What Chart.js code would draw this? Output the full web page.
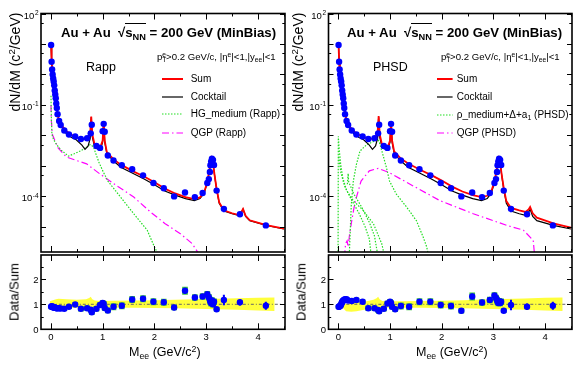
<!DOCTYPE html>
<html>
<head>
<meta charset="utf-8">
<title>Au+Au dielectron mass spectra</title>
<script src="https://cdn.jsdelivr.net/npm/chart.js@4.4.1/dist/chart.umd.min.js"></script>
<style>
  html, body { margin: 0; padding: 0; background: #fff; }
  #fig { position: relative; width: 581px; height: 368px; overflow: hidden;
         font-family: "Liberation Sans", Arial, Helvetica, sans-serif; color: #000; }
  #fig canvas { position: absolute; }
  .t { position: absolute; white-space: nowrap; line-height: 1; }
  .t sub, .t sup { font-size: 70%; line-height: 0; }
  .t sub { vertical-align: -0.35em; }
  .t sup { vertical-align: 0.5em; }
  .rot { transform: translate(-50%, -50%) rotate(-90deg); }
  .ov { border-top: 1px solid #000; padding-top: 1px; }
  .title { font-weight: bold; font-size: 13.2px; }
  .cut { font-size: 9.6px; }
  .model { font-size: 12.5px; }
  .leg { font-size: 10px; }
  svg.s { position: absolute; overflow: visible; }
</style>
</head>
<body>
<div id="fig">
  <canvas id="topRapp" width="290" height="256" style="left:0;top:0"></canvas>
  <canvas id="ratioRapp" width="290" height="118" style="left:0;top:250px"></canvas>
  <canvas id="topPhsd" width="291" height="256" style="left:290px;top:0"></canvas>
  <canvas id="ratioPhsd" width="291" height="118" style="left:290px;top:250px"></canvas>

  <!-- left panel texts -->
  <div class="t title" style="left:61px;top:26.3px">Au + Au &nbsp;√<span class="ov">s<sub>NN</sub></span> = 200 GeV (MinBias)</div>
  <div class="t cut" style="left:157px;top:52px">p<sub>T</sub><sup style="margin-left:-4.1px">e</sup>&gt;0.2 GeV/c, |η<sup>e</sup>|&lt;1,|y<sub>ee</sub>|&lt;1</div>
  <div class="t model" style="left:86px;top:61.4px">Rapp</div>
  <svg class="s" style="left:161.7px;top:79.3px" width="21" height="1"><line x1="0" y1="0" x2="21" y2="0" stroke="#ff0000" stroke-width="2"/></svg>
  <div class="t leg" style="left:190.7px;top:74.4px">Sum</div>
  <svg class="s" style="left:161.7px;top:96.7px" width="21" height="1"><line x1="0" y1="0" x2="21" y2="0" stroke="#000" stroke-width="1.2"/></svg>
  <div class="t leg" style="left:190.7px;top:91.8px">Cocktail</div>
  <svg class="s" style="left:161.7px;top:114.3px" width="21" height="1"><line x1="0" y1="0" x2="21" y2="0" stroke="#22dd22" stroke-width="1.2" stroke-dasharray="1.5 1.5"/></svg>
  <div class="t leg" style="left:190.7px;top:109.4px">HG_medium (Rapp)</div>
  <svg class="s" style="left:161.7px;top:132.7px" width="21" height="1"><line x1="0" y1="0" x2="21" y2="0" stroke="#ff00ff" stroke-width="1.2" stroke-dasharray="7 3 1.5 3"/></svg>
  <div class="t leg" style="left:190.7px;top:127.8px">QGP (Rapp)</div>
  <div class="t rot" style="left:15.3px;top:61.5px;font-size:14px">dN/dM (c<sup>2</sup>/GeV)</div>
  <div class="t rot" style="left:13.8px;top:291.5px;font-size:13px">Data/Sum</div>
  <div class="t" style="left:129px;top:345.6px;font-size:12.5px">M<sub>ee</sub> (GeV/c<sup>2</sup>)</div>

  <!-- right panel texts -->
  <div class="t title" style="left:347px;top:26.3px">Au + Au &nbsp;√<span class="ov">s<sub>NN</sub></span> = 200 GeV (MinBias)</div>
  <div class="t cut" style="left:441px;top:52px">p<sub>T</sub><sup style="margin-left:-4.1px">e</sup>&gt;0.2 GeV/c, |η<sup>e</sup>|&lt;1,|y<sub>ee</sub>|&lt;1</div>
  <div class="t model" style="left:373px;top:61.4px">PHSD</div>
  <svg class="s" style="left:436.7px;top:79.3px" width="16" height="1"><line x1="0" y1="0" x2="15.6" y2="0" stroke="#ff0000" stroke-width="2"/></svg>
  <div class="t leg" style="left:456.7px;top:74.4px">Sum</div>
  <svg class="s" style="left:436.7px;top:96.7px" width="16" height="1"><line x1="0" y1="0" x2="15.6" y2="0" stroke="#000" stroke-width="1.2"/></svg>
  <div class="t leg" style="left:456.7px;top:91.8px">Cocktail</div>
  <svg class="s" style="left:436.7px;top:115px" width="16" height="1"><line x1="0" y1="0" x2="15.6" y2="0" stroke="#22dd22" stroke-width="1.2" stroke-dasharray="1.5 1.5"/></svg>
  <div class="t leg" style="left:456.7px;top:110.1px">ρ_medium+Δ+a<sub>1</sub> (PHSD)</div>
  <svg class="s" style="left:436.7px;top:132.7px" width="16" height="1"><line x1="0" y1="0" x2="15.6" y2="0" stroke="#ff00ff" stroke-width="1.2" stroke-dasharray="7 3 1.5 3"/></svg>
  <div class="t leg" style="left:456.7px;top:127.8px">QGP (PHSD)</div>
  <div class="t rot" style="left:298px;top:61.5px;font-size:14px">dN/dM (c<sup>2</sup>/GeV)</div>
  <div class="t rot" style="left:301px;top:291.5px;font-size:13px">Data/Sum</div>
  <div class="t" style="left:416px;top:345.6px;font-size:12.5px">M<sub>ee</sub> (GeV/c<sup>2</sup>)</div>
</div>

<script>
// ---- measured data points (both panels share the same data) ----
const massPts = [0.005, 0.015, 0.025, 0.035, 0.045, 0.055, 0.065, 0.075, 0.085, 0.095,
  0.105, 0.115, 0.13, 0.16, 0.19, 0.26, 0.35, 0.47, 0.58, 0.70,
  0.77, 0.79, 0.88, 0.95, 1.0, 1.02, 1.04, 1.1, 1.21, 1.37,
  1.57, 1.78, 1.98, 2.18, 2.38, 2.59, 2.78, 2.93, 3.02, 3.05,
  3.07, 3.08, 3.095, 3.11, 3.13, 3.15, 3.2, 3.34, 3.65, 4.15]
const yieldPts = [9.3, 2.6, 1.45, 1.0, 0.74, 0.59, 0.44, 0.30, 0.22, 0.166,
  0.112, 0.079, 0.050, 0.030, 0.022, 0.0145, 0.0107, 0.0093, 0.0076, 0.0081,
  0.0117, 0.0224, 0.0045, 0.0039, 0.0138, 0.024, 0.0132, 0.0022, 0.0015, 0.00105,
  7.8e-4, 4.9e-4, 2.75e-4, 1.86e-4, 1.0e-4, 1.35e-4, 9.5e-5, 1.29e-4, 2.75e-4, 3.7e-4,
  6.3e-4, 1.05e-3, 1.41e-3, 1.74e-3, 1.58e-3, 1.07e-3, 1.55e-4, 3.9e-5, 2.6e-5, 1.12e-5]
const ratioRappPts = [0.9, 0.92, 0.9, 0.88, 0.9, 0.87, 0.87, 0.86, 0.86, 0.85,
  0.85, 0.84, 0.84, 0.84, 0.83, 0.82, 0.9, 0.99, 0.82, 0.84,
  0.78, 0.68, 0.82, 0.97, 1.05, 1.02, 0.85, 0.75, 0.9, 0.94,
  1.19, 1.22, 1.1, 1.08, 0.87, 1.54, 1.27, 1.31, 1.4, 1.28,
  1.17, 1.1, 1.04, 1.15, 1.0, 1.1, 0.8, 1.17, 1.08, 0.94]
const ratioPhsdPts = [0.9, 0.9, 0.92, 0.93, 0.95, 1.0, 1.05, 1.1, 1.12, 1.15,
  1.16, 1.18, 1.2, 1.2, 1.15, 1.13, 1.17, 1.1, 0.84, 0.84,
  0.77, 0.72, 0.82, 1.03, 1.1, 1.05, 0.9, 0.8, 0.93, 0.9,
  1.1, 1.1, 0.97, 0.93, 0.74, 1.31, 1.07, 1.17, 1.35, 1.25,
  1.17, 1.1, 1.05, 1.12, 1.05, 1.1, 0.74, 0.97, 0.9, 0.94]
const statErr = [0.03, 0.03, 0.03, 0.03, 0.03, 0.03, 0.03, 0.03, 0.03, 0.03,
  0.03, 0.03, 0.03, 0.03, 0.03, 0.04, 0.04, 0.04, 0.04, 0.04,
  0.05, 0.05, 0.05, 0.05, 0.05, 0.05, 0.05, 0.05, 0.07, 0.07,
  0.07, 0.07, 0.07, 0.07, 0.1, 0.1, 0.1, 0.07, 0.07, 0.07,
  0.07, 0.07, 0.07, 0.07, 0.07, 0.07, 0.06, 0.2, 0.12, 0.15]
const sysErr = [0.06, 0.06, 0.06, 0.06, 0.06, 0.06, 0.06, 0.06, 0.06, 0.06,
  0.06, 0.06, 0.06, 0.06, 0.06, 0.08, 0.08, 0.08, 0.1, 0.1,
  0.1, 0.1, 0.1, 0.1, 0.1, 0.1, 0.1, 0.1, 0.13, 0.13,
  0.13, 0.13, 0.13, 0.13, 0.1, 0.15, 0.12, 0.12, 0.12, 0.12,
  0.12, 0.12, 0.12, 0.12, 0.12, 0.12, 0.08, 0, 0, 0]

// ---- cocktail and sum curves ----
const curveMass = [0.005, 0.015, 0.03, 0.05, 0.07, 0.09, 0.11, 0.13, 0.15, 0.2,
  0.3, 0.4, 0.49, 0.6, 0.66, 0.72, 0.76, 0.78, 0.8, 0.84,
  0.9, 0.96, 1.0, 1.02, 1.04, 1.08, 1.2, 1.35, 1.6, 1.8,
  2.0, 2.2, 2.4, 2.6, 2.77, 2.88, 2.96, 3.02, 3.06, 3.1,
  3.13, 3.16, 3.2, 3.25, 3.34, 3.5, 3.62, 3.68, 3.71, 3.76,
  3.84, 4.16, 4.5]
const cocktailY = [9.0, 2.7, 1.2, 0.65, 0.37, 0.19, 0.095, 0.052, 0.035, 0.02,
  0.0112, 0.0085, 0.0072, 0.0048, 0.0035, 0.0045, 0.008, 0.04, 0.009, 0.0045,
  0.0036, 0.0036, 0.006, 0.028, 0.006, 0.0026, 0.0015, 9.0e-4, 5.5e-4, 3.7e-4,
  2.4e-4, 1.5e-4, 1.1e-4, 8.5e-5, 7.3e-5, 8.5e-5, 1.3e-4, 2.8e-4, 7.0e-4, 1.7e-3,
  1.2e-3, 5.0e-4, 1.7e-4, 6.0e-5, 3.3e-5, 2.7e-5, 2.4e-5, 3.0e-5, 3.8e-5, 2.2e-5,
  1.6e-5, 1.12e-5, 8.5e-6]
const sumRappY = [9.0, 2.7, 1.2, 0.65, 0.37, 0.19, 0.095, 0.052, 0.035, 0.022,
  0.0138, 0.0105, 0.0085, 0.0078, 0.0076, 0.0088, 0.012, 0.042, 0.011, 0.0055,
  0.0045, 0.0043, 0.0068, 0.029, 0.0068, 0.0029, 0.0017, 1.1e-3, 6.5e-4, 4.5e-4,
  2.9e-4, 1.8e-4, 1.25e-4, 9.5e-5, 8.2e-5, 9.3e-5, 1.4e-4, 2.9e-4, 7.2e-4, 1.75e-3,
  1.25e-3, 5.1e-4, 1.75e-4, 6.3e-5, 3.5e-5, 2.8e-5, 2.5e-5, 3.1e-5, 3.9e-5, 2.3e-5,
  1.65e-5, 1.15e-5, 8.7e-6]
const sumPhsdY = [9.0, 2.7, 1.2, 0.65, 0.37, 0.19, 0.095, 0.052, 0.035, 0.021,
  0.0135, 0.0105, 0.0087, 0.0079, 0.0077, 0.0088, 0.0125, 0.043, 0.011, 0.0055,
  0.0045, 0.0043, 0.0068, 0.029, 0.0068, 0.003, 0.0018, 1.2e-3, 7.2e-4, 5.0e-4,
  3.3e-4, 2.1e-4, 1.45e-4, 1.1e-4, 9.5e-5, 1.05e-4, 1.5e-4, 3.0e-4, 7.3e-4, 1.75e-3,
  1.26e-3, 5.2e-4, 1.85e-4, 7.0e-5, 4.2e-5, 3.5e-5, 3.1e-5, 3.7e-5, 4.5e-5, 2.8e-5,
  2.0e-5, 1.3e-5, 9.5e-6]

// ---- model components ----
const hgRappM = [0.003, 0.01, 0.02, 0.05, 0.11, 0.2, 0.34, 0.45, 0.57, 0.7, 0.76, 0.8, 0.83, 0.88, 0.93, 1.0, 1.1, 1.35, 1.6, 1.86, 2.0, 2.1]
const hgRappY = [0.2, 0.04, 0.011, 0.0075, 0.005, 0.0033, 0.0021, 0.0025, 0.0031, 0.0042, 0.005, 0.0045, 0.0039, 0.0022, 0.0013, 7.0e-4, 3.2e-4, 9.3e-5, 2.7e-5, 7.8e-6, 2.2e-6, 1.0e-6]
const qgpRappM = [0.003, 0.01, 0.03, 0.14, 0.3, 0.5, 0.69, 0.95, 1.28, 1.6, 1.93, 2.2, 2.5, 2.73, 2.9]
const qgpRappY = [0.1, 0.03, 0.0107, 0.0039, 0.00195, 0.0015, 0.00117, 5.4e-4, 2.2e-4, 9.5e-5, 3.0e-5, 1.3e-5, 6.0e-6, 2.8e-6, 1.0e-6]

const rhoPhsdM = [0.21, 0.25, 0.29, 0.35, 0.42, 0.55, 0.68, 0.77, 0.8, 0.86, 0.93, 0.99, 1.12, 1.32, 1.51, 1.64, 1.71, 1.75]
const rhoPhsdY = [1.0e-6, 5.0e-5, 3.2e-4, 1.12e-3, 3.1e-3, 5.0e-3, 6.3e-3, 7.2e-3, 5.5e-3, 2.4e-3, 8.9e-4, 3.2e-4, 1.2e-4, 4.5e-5, 1.6e-5, 4.7e-6, 2.2e-6, 1.0e-6]
const deltaPhsdM = [-0.005, 0.0, 0.01, 0.02, 0.046, 0.085, 0.16, 0.29, 0.48, 0.68, 0.84, 0.9]
const deltaPhsdY = [1.0e-6, 9.3e-3, 5.0e-3, 3.1e-3, 1.12e-3, 4.2e-4, 1.55e-4, 7.2e-5, 3.5e-5, 1.26e-5, 2.8e-6, 1.0e-6]
const a1PhsdM = [0.175, 0.19, 0.2, 0.3, 0.45, 0.6, 0.7, 0.77]
const a1PhsdY = [2.5e-4, 5.6e-4, 3.0e-4, 1.2e-4, 4.5e-5, 1.4e-5, 5.0e-6, 1.0e-6]
const omegaPhsdM = [0.005, 0.05, 0.12, 0.25, 0.4, 0.52, 0.6, 0.64]
const omegaPhsdY = [2.0e-3, 6.0e-4, 2.2e-4, 8.0e-5, 2.8e-5, 1.0e-5, 4.0e-6, 1.0e-6]
const qgpPhsdM = [0.12, 0.14, 0.17, 0.19, 0.22, 0.3, 0.35, 0.44, 0.6, 0.77, 0.99, 1.32, 1.97, 2.61, 3.26, 3.58, 3.77, 3.8]
const qgpPhsdY = [1.0e-6, 2.8e-6, 3.5e-6, 2.2e-6, 6.3e-6, 4.0e-5, 9.3e-5, 3.2e-4, 6.9e-4, 8.3e-4, 6.0e-4, 2.9e-4, 7.2e-5, 2.7e-5, 1.12e-5, 7.8e-6, 3.6e-6, 1.0e-6]

// ---- cocktail uncertainty bands in the ratio panels ----
const bandRappM = [-0.02, 0.1, 0.15, 0.3, 0.5, 0.68, 0.74, 0.77, 0.8, 0.85, 0.95, 1.2, 1.6, 2.0, 2.4, 2.8, 3.2, 3.6, 4.0, 4.32]
const bandRappHi = [1.12, 1.2, 1.22, 1.2, 1.18, 1.2, 1.25, 1.3, 1.2, 1.15, 1.13, 1.14, 1.15, 1.16, 1.18, 1.2, 1.22, 1.24, 1.26, 1.27]
const bandRappLo = [0.88, 0.86, 0.85, 0.85, 0.86, 0.86, 0.84, 0.82, 0.85, 0.86, 0.86, 0.86, 0.86, 0.85, 0.84, 0.82, 0.8, 0.78, 0.75, 0.73]
const bandPhsdM = [0.09, 0.15, 0.25, 0.35, 0.5, 0.68, 0.74, 0.77, 0.8, 0.85, 0.95, 1.2, 1.6, 2.0, 2.4, 2.8, 3.2, 3.6, 4.0, 4.34]
const bandPhsdHi = [1.0, 1.02, 1.05, 1.08, 1.1, 1.18, 1.24, 1.3, 1.2, 1.13, 1.12, 1.12, 1.13, 1.14, 1.16, 1.19, 1.21, 1.23, 1.26, 1.27]
const bandPhsdLo = [0.85, 0.72, 0.7, 0.72, 0.78, 0.84, 0.82, 0.8, 0.85, 0.86, 0.86, 0.86, 0.86, 0.85, 0.84, 0.82, 0.8, 0.78, 0.75, 0.73]
const unityLineM = [0, 4.45]
const unityLineY = [1, 1]

// ---- axis ticks ----
const xMajorTicks = [0, 1, 2, 3, 4]
const xMinorTicks = [0.5, 1.5, 2.5, 3.5, 4.5]
const logMajorTicks = [1e2, 1e1, 1e0, 1e-1, 1e-2, 1e-3, 1e-4, 1e-5]
const logMinorTicks = [5e1, 5e0, 5e-1, 5e-2, 5e-3, 5e-4, 5e-5, 5e-6]
const logLabelTicks = [1e2, 1e-1, 1e-4]
const ratioMajorTicks = [0, 1, 2]
const ratioMinorTicks = [0.5, 1.5, 2.5]
const ratioLabelTicks = [0, 1, 2]

const BLUE = '#0000ff'
const RED = '#ff0000'
const GREEN = '#22dd22'
const MAGENTA = '#ff00ff'
const FONT = '"Liberation Sans", Arial, sans-serif'

// ROOT-like frame: ticks inside on all four sides, labels outside
const rootAxes = {
  id: 'rootAxes',
  afterDraw(chart, args, o) {
    const { ctx, chartArea: a } = chart
    const xs = chart.scales.x
    const ys = chart.scales.y
    ctx.save()
    ctx.strokeStyle = '#000'
    ctx.lineWidth = 1
    ctx.beginPath()
    const xTick = (v, len) => {
      const p = Math.round(xs.getPixelForValue(v)) + 0.5
      if (p < a.left || p > a.right) return
      ctx.moveTo(p, a.bottom); ctx.lineTo(p, a.bottom - len)
      ctx.moveTo(p, a.top); ctx.lineTo(p, a.top + len)
    }
    const yTick = (v, len) => {
      const p = Math.round(ys.getPixelForValue(v)) + 0.5
      if (p < a.top - 0.5 || p > a.bottom + 0.5) return
      ctx.moveTo(a.left, p); ctx.lineTo(a.left + len, p)
      ctx.moveTo(a.right, p); ctx.lineTo(a.right - len, p)
    }
    xMajorTicks.forEach(v => xTick(v, o.xLen))
    xMinorTicks.forEach(v => xTick(v, o.xLen / 2))
    o.yMajor.forEach(v => yTick(v, 5))
    o.yMinor.forEach(v => yTick(v, 2.7))
    ctx.stroke()
    ctx.lineWidth = 1.6
    ctx.strokeRect(a.left, a.top, a.right - a.left, a.bottom - a.top)

    ctx.fillStyle = '#000'
    ctx.font = '9.5px ' + FONT
    if (o.xLabels) {
      ctx.textAlign = 'center'
      ctx.textBaseline = 'alphabetic'
      xMajorTicks.forEach(v => ctx.fillText(String(v), xs.getPixelForValue(v), a.bottom + 10.5))
    }
    ctx.textAlign = 'left'
    o.yLabels.forEach(v => {
      const p = ys.getPixelForValue(v)
      const right = a.left - 2.5
      if (o.log) {
        const ex = String(Math.round(Math.log10(v)))
        ctx.font = '9.5px ' + FONT
        const w1 = ctx.measureText('10').width
        ctx.font = '6.5px ' + FONT
        const w2 = ctx.measureText(ex).width
        const x0 = right - w1 - w2 - 0.5
        ctx.font = '9.5px ' + FONT
        ctx.fillText('10', x0, p + 5)
        ctx.font = '6.5px ' + FONT
        ctx.fillText(ex, x0 + w1 + 0.5, p + 1.2)
      } else {
        ctx.font = '9.5px ' + FONT
        ctx.textAlign = 'right'
        ctx.fillText(String(v), right, p + 3.4)
        ctx.textAlign = 'left'
      }
    })
    ctx.restore()
  }
}

const pairs = (xs, ys) => xs.map((x, i) => ({ x, y: ys[i] }))

function curve(xs, ys, color, width, dash, order) {
  return {
    type: 'line', data: pairs(xs, ys), borderColor: color, borderWidth: width,
    borderDash: dash, pointRadius: 0, fill: false, tension: 0, order
  }
}

function baseOptions(pad, yScale, axes) {
  return {
    responsive: false,
    animation: false,
    events: [],
    layout: { padding: pad },
    scales: {
      x: { type: 'linear', min: -0.19, max: 4.52, display: false, offset: false },
      y: yScale
    },
    plugins: { legend: { display: false }, tooltip: { enabled: false }, rootAxes: axes }
  }
}

function makeTop(id, pad, sumY, models) {
  const datasets = [
    { type: 'line', data: pairs(massPts, yieldPts), showLine: false, pointRadius: 3.2,
      pointBackgroundColor: BLUE, pointBorderWidth: 0, order: 0 },
    { type: 'bar', data: massPts.map((m, i) => ({ x: m, y: [yieldPts[i] * (1 - statErr[i]), yieldPts[i] * (1 + statErr[i])] })),
      backgroundColor: BLUE, barThickness: 1.4, grouped: false, order: 1 },
    curve(curveMass, sumY, RED, 1.8, [], 2),
    curve(curveMass, cocktailY, '#000', 1.2, [], 3),
    ...models
  ]
  new Chart(document.getElementById(id), {
    type: 'line',
    data: { datasets },
    options: baseOptions(pad, { type: 'logarithmic', min: 1.5e-6, max: 100, display: false },
      { log: true, xLen: 6, xLabels: false, yMajor: logMajorTicks, yMinor: logMinorTicks, yLabels: logLabelTicks }),
    plugins: [rootAxes]
  })
}

function makeRatio(id, pad, ratio, bandM, bandHi, bandLo) {
  const datasets = [
    { type: 'line', data: pairs(massPts, ratio), showLine: false, pointRadius: 3.2,
      pointBackgroundColor: BLUE, pointBorderWidth: 0, order: 0 },
    { type: 'bar', data: massPts.map((m, i) => ({ x: m, y: [ratio[i] - statErr[i], ratio[i] + statErr[i]] })),
      backgroundColor: BLUE, barThickness: 1.4, grouped: false, order: 1 },
    { type: 'bar', data: massPts.map((m, i) => ({ x: m, y: [ratio[i] - sysErr[i], ratio[i] + sysErr[i]] })),
      backgroundColor: '#3cc83c', barThickness: 5, grouped: false, order: 2 },
    curve(unityLineM, unityLineY, '#666', 1, [3, 2, 1, 2], 3),
    { type: 'line', data: pairs(bandM, bandHi), borderWidth: 0, pointRadius: 0, tension: 0,
      backgroundColor: '#ffff3c', fill: { target: 5, above: '#ffff3c', below: '#ffff3c' }, order: 4 },
    { type: 'line', data: pairs(bandM, bandLo), borderWidth: 0, pointRadius: 0, tension: 0, fill: false, order: 5 }
  ]
  new Chart(document.getElementById(id), {
    type: 'line',
    data: { datasets },
    options: baseOptions(pad, { type: 'linear', min: 0, max: 2.97, display: false },
      { log: false, xLen: 6, xLabels: true, yMajor: ratioMajorTicks, yMinor: ratioMinorTicks, yLabels: ratioLabelTicks }),
    plugins: [rootAxes]
  })
}

const dotted = [1.5, 1.5]
const dashDot = [7, 3, 1.5, 3]

makeTop('topRapp', { left: 41, top: 13.5, right: 5, bottom: 1 }, sumRappY, [
  curve(hgRappM, hgRappY, GREEN, 1.2, dotted, 4),
  curve(qgpRappM, qgpRappY, MAGENTA, 1.2, dashDot, 5)
])
makeRatio('ratioRapp', { left: 41, top: 5, right: 5, bottom: 38.7 }, ratioRappPts, bandRappM, bandRappHi, bandRappLo)

makeTop('topPhsd', { left: 38.5, top: 13.5, right: 9, bottom: 1 }, sumPhsdY, [
  curve(rhoPhsdM, rhoPhsdY, GREEN, 1.2, dotted, 4),
  curve(deltaPhsdM, deltaPhsdY, GREEN, 1.2, dotted, 4),
  curve(a1PhsdM, a1PhsdY, GREEN, 1.2, dotted, 4),
  curve(omegaPhsdM, omegaPhsdY, GREEN, 1.2, dotted, 4),
  curve(qgpPhsdM, qgpPhsdY, MAGENTA, 1.2, dashDot, 5)
])
makeRatio('ratioPhsd', { left: 38.5, top: 5, right: 9, bottom: 38.7 }, ratioPhsdPts, bandPhsdM, bandPhsdHi, bandPhsdLo)
</script>
</body>
</html>
